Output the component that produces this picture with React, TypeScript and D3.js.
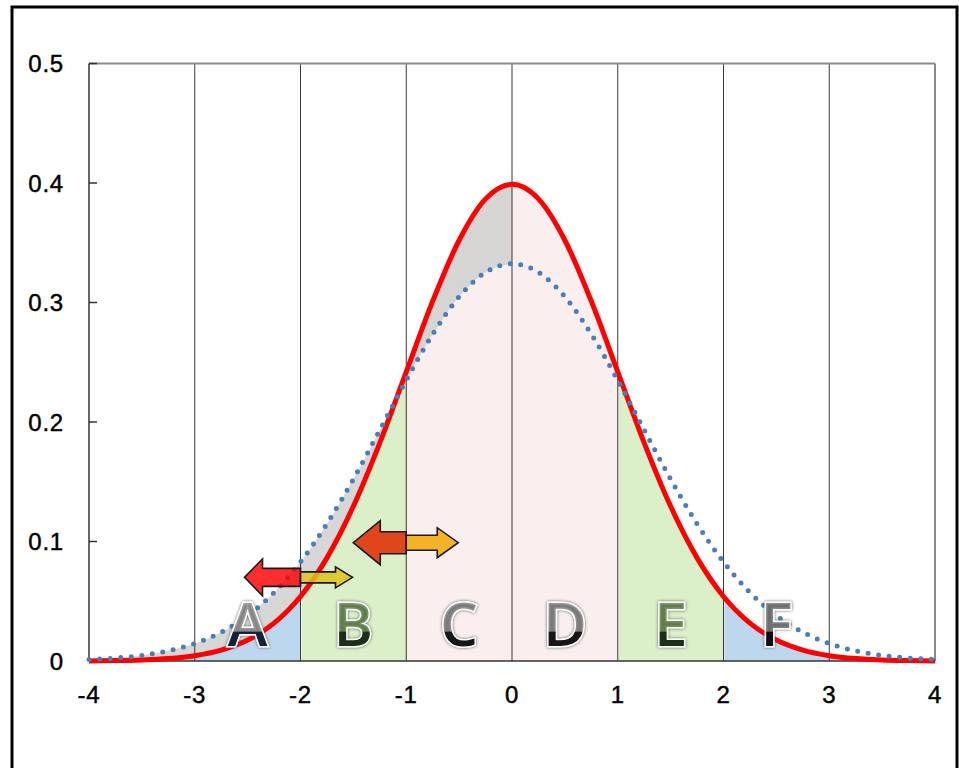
import React from "react";
import * as d3 from "d3";

// values, every 0.25 on the x axis
const xValues = [
  -4, -3.75, -3.5, -3.25, -3, -2.75, -2.5, -2.25, -2, -1.75, -1.5, -1.25, -1,
  -0.75, -0.5, -0.25, 0, 0.25, 0.5, 0.75, 1, 1.25, 1.5, 1.75, 2, 2.25, 2.5,
  2.75, 3, 3.25, 3.5, 3.75, 4,
];
// solid red curve
const redValues = [
  0.0001, 0.0004, 0.0009, 0.002, 0.0044, 0.0091, 0.0175, 0.0317, 0.054,
  0.0863, 0.1295, 0.1826, 0.242, 0.3011, 0.3521, 0.3867, 0.3989, 0.3867,
  0.3521, 0.3011, 0.242, 0.1826, 0.1295, 0.0863, 0.054, 0.0317, 0.0175,
  0.0091, 0.0044, 0.002, 0.0009, 0.0004, 0.0001,
];
// dotted blue curve
const blueValues = [
  0.0013, 0.0025, 0.0047, 0.0085, 0.0146, 0.0241, 0.038, 0.0573, 0.0829,
  0.1148, 0.1522, 0.1933, 0.2349, 0.2735, 0.3048, 0.3253, 0.3324, 0.3253,
  0.3048, 0.2735, 0.2349, 0.1933, 0.1522, 0.1148, 0.0829, 0.0573, 0.038,
  0.0241, 0.0146, 0.0085, 0.0047, 0.0025, 0.0013,
];

const xTicks = [-4, -3, -2, -1, 0, 1, 2, 3, 4];
const yTicks = [0, 0.1, 0.2, 0.3, 0.4, 0.5];

const regionLabels = ["A", "B", "C", "D", "E", "F"];
const regionStarts = [-4, -2, -1, 0, 1, 2];
const regionEnds = [-2, -1, 0, 1, 2, 4];
const regionColors = ["#bdd7ee", "#dbefc9", "#fbeeee", "#fbeeee", "#dbefc9", "#bdd7ee"];
const labelCenters = [-2.5, -1.5, -0.5, 0.5, 1.5, 2.5];
const labelTops = ["#8a8a8a", "#5f8049", "#7d7d7d", "#7d7d7d", "#5f8049", "#6e6e6e"];
const labelBottoms = ["#14223a", "#1b2d12", "#141414", "#141414", "#1b2d12", "#111111"];

// the two arrow pairs sit on x = -2 and x = -1
const arrowX = [-2, -1];
const arrowY = [0.07, 0.099];

const W = 959;
const H = 768;

type Pt = { x: number; r: number; b: number };
const points: Pt[] = xValues.map((x, i) => ({ x, r: redValues[i], b: blueValues[i] }));

// arrow polygon, dir -1 points left, +1 points right, drawn from (0,0)
function arrowPath(dir: number, len: number, headL: number, bodyH: number, headH: number) {
  const s = dir;
  const b = bodyH / 2;
  const h = headH / 2;
  const neck = (len - headL) * s;
  return `M0,${-b} L${neck},${-b} L${neck},${-h} L${len * s},0 L${neck},${h} L${neck},${b} L0,${b} Z`;
}

const arrowSets = [
  {
    left: { fill: "#ff0000", len: 56, headL: 18, bodyH: 18, headH: 37, opacity: 0.82 },
    right: { fill: "#e2c21c", len: 52, headL: 17, bodyH: 11, headH: 21, opacity: 0.85 },
  },
  {
    left: { fill: "#e0461b", len: 53, headL: 27, bodyH: 22, headH: 44, opacity: 1 },
    right: { fill: "#f3b325", len: 52, headL: 21, bodyH: 15, headH: 30, opacity: 1 },
  },
];

export default function App() {
  const x = d3.scaleLinear().domain([-4, 4]).range([89, 935]);
  const y = d3.scaleLinear().domain([0, 0.5]).range([661, 63.5]);

  const redLine = d3
    .line<Pt>()
    .x((d) => x(d.x))
    .y((d) => y(d.r))
    .curve(d3.curveMonotoneX);
  const blueLine = d3
    .line<Pt>()
    .x((d) => x(d.x))
    .y((d) => y(d.b))
    .curve(d3.curveMonotoneX);
  const underRed = d3
    .area<Pt>()
    .x((d) => x(d.x))
    .y0(y(0))
    .y1((d) => y(d.r))
    .curve(d3.curveMonotoneX);
  const between = d3
    .area<Pt>()
    .x((d) => x(d.x))
    .y0((d) => y(d.r))
    .y1((d) => y(d.b))
    .curve(d3.curveMonotoneX);

  const leftHalf = points.filter((p) => p.x <= 0);

  return (
    <svg
      width={W}
      height={H}
      style={{ position: "absolute", left: 0, top: 0, background: "#fff" }}
      fontFamily="'Liberation Sans', Arial, sans-serif"
    >
      <defs>
        {regionLabels.map((l, i) => (
          <linearGradient key={l} id={`lg${l}`} x1="0" y1="0" x2="0" y2="1">
            <stop offset="0" stopColor={labelTops[i]} stopOpacity={0.75} />
            <stop offset="0.6" stopColor={labelTops[i]} stopOpacity={0.9} />
            <stop offset="0.61" stopColor={labelBottoms[i]} />
            <stop offset="1" stopColor={labelBottoms[i]} />
          </linearGradient>
        ))}
        <filter id="glow" x="-20%" y="-20%" width="140%" height="140%">
          <feDropShadow dx="0" dy="0" stdDeviation="1.5" floodColor="#444" floodOpacity="0.9" />
        </filter>
      </defs>

      <rect x={12} y={7} width={945} height={790} fill="none" stroke="#000" strokeWidth={3} />

      {/* coloured bands under the red curve */}
      {regionLabels.map((l, i) => (
        <path
          key={l}
          d={underRed(points.filter((p) => p.x >= regionStarts[i] && p.x <= regionEnds[i])) || ""}
          fill={regionColors[i]}
          transform={i > 0 ? "translate(1,0)" : undefined}
        />
      ))}

      {/* grey gap between the two curves on the left half */}
      <path d={between(leftHalf) || ""} fill="#cecece" fillOpacity={0.82} />

      {/* vertical grid */}
      {xTicks.slice(1, -1).map((t) => (
        <line key={t} x1={x(t)} x2={x(t)} y1={y(0.5)} y2={y(0)} stroke="#3a3a3a" strokeWidth={1} />
      ))}
      <line x1={x(-4)} x2={x(4)} y1={y(0.5)} y2={y(0.5)} stroke="#8a8a8a" strokeWidth={2} />
      <line x1={x(4)} x2={x(4)} y1={y(0.5)} y2={y(0)} stroke="#8a8a8a" strokeWidth={2} />
      <line x1={x(-4)} x2={x(-4)} y1={y(0.5)} y2={y(0)} stroke="#333" strokeWidth={1.5} />
      <line x1={x(-4)} x2={x(4)} y1={y(0)} y2={y(0)} stroke="#333" strokeWidth={1.5} />
      {yTicks.map((t) => (
        <line key={t} x1={x(-4)} x2={x(-4) + 8} y1={y(t)} y2={y(t)} stroke="#333" strokeWidth={1.5} />
      ))}

      {/* tick labels */}
      <g fontSize={24} fill="#000" stroke="#000" strokeWidth={0.45} letterSpacing={0.8}>
        {yTicks.map((t) => (
          <text key={t} x={64} y={y(t)} dy="0.36em" textAnchor="end">
            {t === 0 ? "0" : t.toFixed(1)}
          </text>
        ))}
        {xTicks.map((t) => (
          <text key={t} x={x(t)} y={694} dy="0.36em" textAnchor="middle">
            {t}
          </text>
        ))}
      </g>

      {/* curves */}
      <path d={redLine(points) || ""} fill="none" stroke="#ff0000" strokeWidth={5} />
      <path
        d={blueLine(points) || ""}
        fill="none"
        stroke="#4a7ebb"
        strokeWidth={5}
        strokeLinecap="round"
        strokeDasharray="0 10.6"
      />

      {/* region letters */}
      {regionLabels.map((l, i) => (
        <text
          key={l}
          x={x(labelCenters[i])}
          y={646}
          textAnchor="middle"
          fontFamily="'Open Sans', sans-serif"
          fontWeight={600}
          fontSize={60}
          fill={`url(#lg${l})`}
          stroke="#fff"
          strokeWidth={3}
          paintOrder="stroke"
          filter="url(#glow)"
        >
          {l}
        </text>
      ))}

      {/* arrows */}
      {arrowSets.map((a, i) => (
        <g key={i} transform={`translate(${x(arrowX[i])},${y(arrowY[i])})`}>
          <path
            d={arrowPath(-1, a.left.len, a.left.headL, a.left.bodyH, a.left.headH)}
            fill={a.left.fill}
            fillOpacity={a.left.opacity}
            stroke="#1a1a1a"
            strokeWidth={1.6}
          />
          <path
            d={arrowPath(1, a.right.len, a.right.headL, a.right.bodyH, a.right.headH)}
            fill={a.right.fill}
            fillOpacity={a.right.opacity}
            stroke="#1a1a1a"
            strokeWidth={1.6}
          />
        </g>
      ))}
    </svg>
  );
}
